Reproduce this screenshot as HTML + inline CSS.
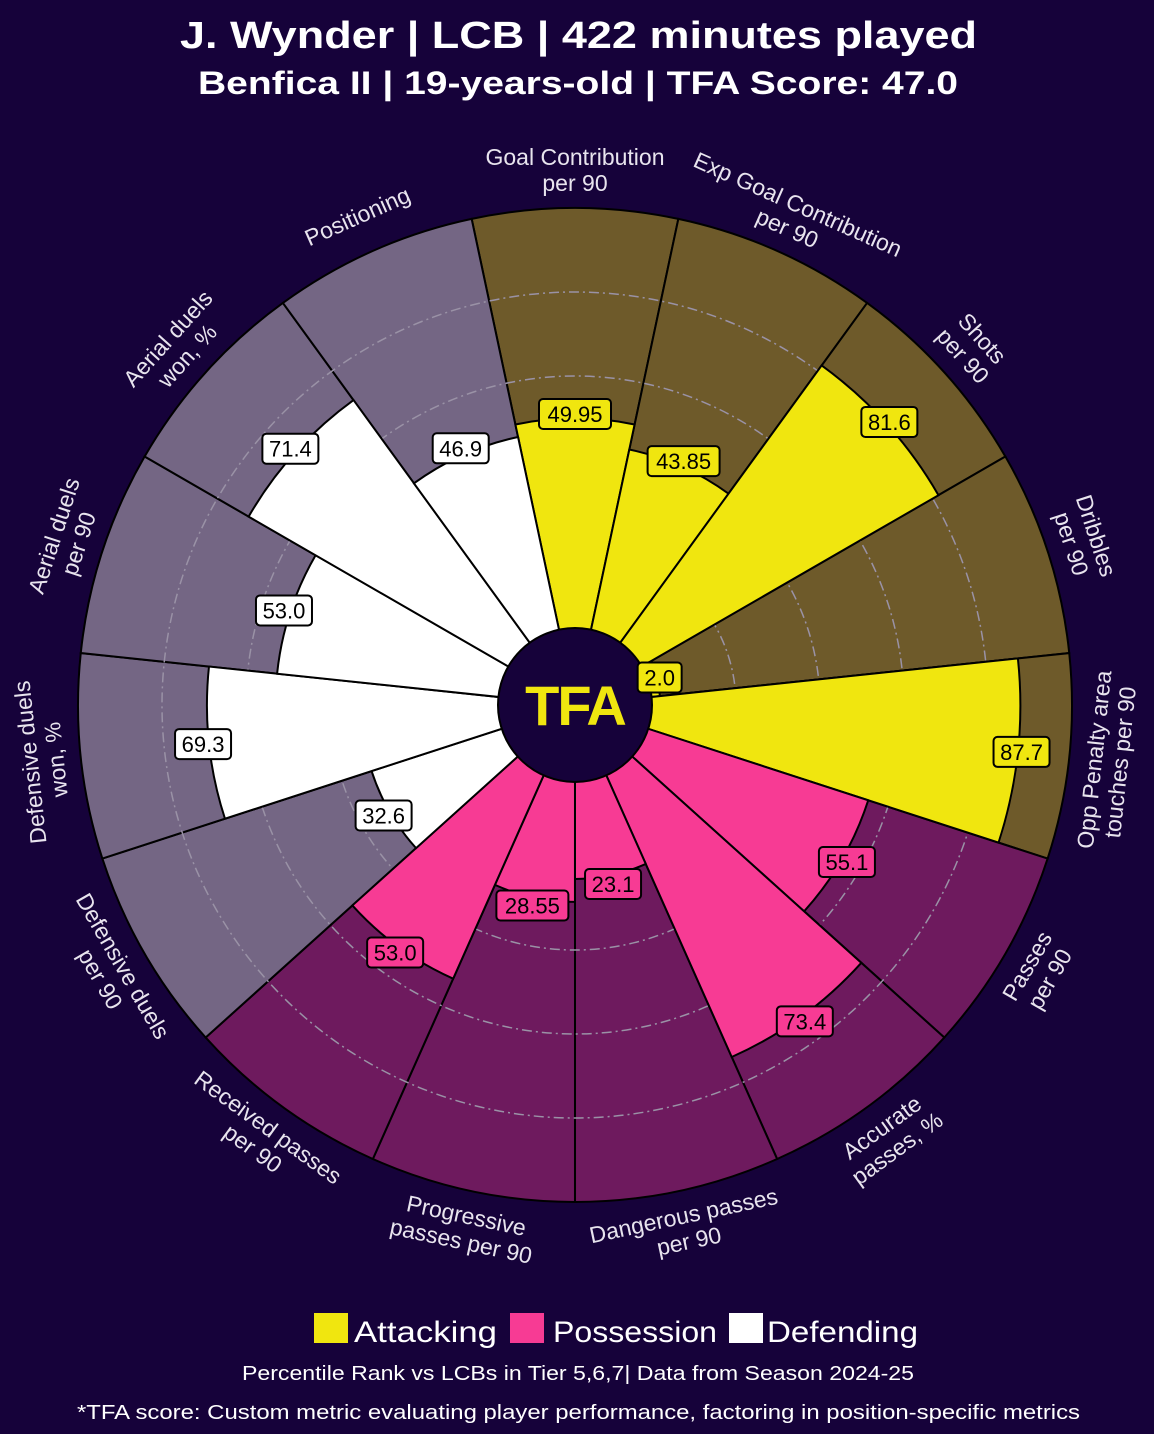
<!DOCTYPE html>
<html><head><meta charset="utf-8"><style>
html,body{margin:0;padding:0;background:#16023a;}
svg{display:block;font-family:"Liberation Sans",sans-serif;}
</style></head><body>
<svg width="1154" height="1434" viewBox="0 0 1154 1434" xmlns="http://www.w3.org/2000/svg">
<rect width="1154" height="1434" fill="#16023a"/>
<text x="180" y="48" fill="#fff" font-size="38" font-weight="bold" textLength="797" lengthAdjust="spacingAndGlyphs">J. Wynder | LCB | 422 minutes played</text>
<text x="198" y="94" fill="#fff" font-size="32" font-weight="bold" textLength="760" lengthAdjust="spacingAndGlyphs">Benfica II | 19-years-old | TFA Score: 47.0</text>

<defs>
<path id="bg" d="M575,705 L471.7,218.9 A497,497 0 0 1 678.3,218.9 Z"/>
</defs>
<g stroke="#000" stroke-width="2">
<use href="#bg" fill="#6e5a2a" transform="rotate(0 575 705)"/>
<use href="#bg" fill="#6e5a2a" transform="rotate(24 575 705)"/>
<use href="#bg" fill="#6e5a2a" transform="rotate(48 575 705)"/>
<use href="#bg" fill="#6e5a2a" transform="rotate(72 575 705)"/>
<use href="#bg" fill="#6e5a2a" transform="rotate(96 575 705)"/>
<use href="#bg" fill="#6e1a5e" transform="rotate(120 575 705)"/>
<use href="#bg" fill="#6e1a5e" transform="rotate(144 575 705)"/>
<use href="#bg" fill="#6e1a5e" transform="rotate(168 575 705)"/>
<use href="#bg" fill="#6e1a5e" transform="rotate(192 575 705)"/>
<use href="#bg" fill="#6e1a5e" transform="rotate(216 575 705)"/>
<use href="#bg" fill="#746684" transform="rotate(240 575 705)"/>
<use href="#bg" fill="#746684" transform="rotate(264 575 705)"/>
<use href="#bg" fill="#746684" transform="rotate(288 575 705)"/>
<use href="#bg" fill="#746684" transform="rotate(312 575 705)"/>
<use href="#bg" fill="#746684" transform="rotate(336 575 705)"/>
</g>
<g fill="none" stroke="#9a92a6" stroke-width="1.5" stroke-dasharray="10 4 2 4">
<circle cx="575" cy="705" r="161"/><circle cx="575" cy="705" r="245"/>
<circle cx="575" cy="705" r="329"/><circle cx="575" cy="705" r="413"/>
</g>
<g stroke="#000" stroke-width="2">
<path fill="#f0e60f" d="M575,705 L515.4,424.5 A286.8,286.8 0 0 1 634.6,424.5 Z" transform="rotate(0 575 705)"/>
<path fill="#f0e60f" d="M575,705 L520.7,449.5 A261.2,261.2 0 0 1 629.3,449.5 Z" transform="rotate(24 575 705)"/>
<path fill="#f0e60f" d="M575,705 L487.7,294.5 A419.7,419.7 0 0 1 662.3,294.5 Z" transform="rotate(48 575 705)"/>
<path fill="#f0e60f" d="M575,705 L557.2,621.5 A85.4,85.4 0 0 1 592.8,621.5 Z" transform="rotate(72 575 705)"/>
<path fill="#f0e60f" d="M575,705 L482.4,269.4 A445.3,445.3 0 0 1 667.6,269.4 Z" transform="rotate(96 575 705)"/>
<path fill="#f73b94" d="M575,705 L510.9,403.4 A308.4,308.4 0 0 1 639.1,403.4 Z" transform="rotate(120 575 705)"/>
<path fill="#f73b94" d="M575,705 L494.9,328.1 A385.3,385.3 0 0 1 655.1,328.1 Z" transform="rotate(144 575 705)"/>
<path fill="#f73b94" d="M575,705 L538.8,534.8 A174,174 0 0 1 611.2,534.8 Z" transform="rotate(168 575 705)"/>
<path fill="#f73b94" d="M575,705 L534.1,512.4 A196.9,196.9 0 0 1 615.9,512.4 Z" transform="rotate(192 575 705)"/>
<path fill="#f73b94" d="M575,705 L512.7,412 A299.6,299.6 0 0 1 637.3,412 Z" transform="rotate(216 575 705)"/>
<path fill="#ffffff" d="M575,705 L530.5,495.8 A213.9,213.9 0 0 1 619.5,495.8 Z" transform="rotate(240 575 705)"/>
<path fill="#ffffff" d="M575,705 L498.5,345 A368.1,368.1 0 0 1 651.5,345 Z" transform="rotate(264 575 705)"/>
<path fill="#ffffff" d="M575,705 L512.7,412 A299.6,299.6 0 0 1 637.3,412 Z" transform="rotate(288 575 705)"/>
<path fill="#ffffff" d="M575,705 L496.6,336.4 A376.9,376.9 0 0 1 653.4,336.4 Z" transform="rotate(312 575 705)"/>
<path fill="#ffffff" d="M575,705 L518,437 A274,274 0 0 1 632,437 Z" transform="rotate(336 575 705)"/>
</g>
<circle cx="575" cy="705" r="77" fill="#16023a" stroke="#000" stroke-width="2"/>
<text x="575" y="725" text-anchor="middle" fill="#f0e60f" font-size="56" font-weight="bold" letter-spacing="-2">TFA</text>

<g font-size="22" text-anchor="middle" fill="#000" stroke-width="2">
<g transform="rotate(0 575 705) translate(575 414) rotate(0)"><rect x="-36" y="-15" width="72" height="30" rx="4" fill="#f0e60f" stroke="#000"/><text y="8">49.95</text></g>
<g transform="rotate(24 575 705) translate(575 438) rotate(-24)"><rect x="-36" y="-15" width="72" height="30" rx="4" fill="#f0e60f" stroke="#000"/><text y="8">43.85</text></g>
<g transform="rotate(48 575 705) translate(575 282) rotate(-48)"><rect x="-28" y="-15" width="56" height="30" rx="4" fill="#f0e60f" stroke="#000"/><text y="8">81.6</text></g>
<g transform="rotate(72 575 705) translate(575 616) rotate(-72)"><rect x="-22" y="-15" width="44" height="30" rx="4" fill="#f0e60f" stroke="#000"/><text y="8">2.0</text></g>
<g transform="rotate(96 575 705) translate(575 256) rotate(-96)"><rect x="-28" y="-15" width="56" height="30" rx="4" fill="#f0e60f" stroke="#000"/><text y="8">87.7</text></g>
<g transform="rotate(120 575 705) translate(575 391) rotate(-120)"><rect x="-28" y="-15" width="56" height="30" rx="4" fill="#f73b94" stroke="#000"/><text y="8">55.1</text></g>
<g transform="rotate(144 575 705) translate(575 314) rotate(-144)"><rect x="-28" y="-15" width="56" height="30" rx="4" fill="#f73b94" stroke="#000"/><text y="8">73.4</text></g>
<g transform="rotate(168 575 705) translate(575 522) rotate(-168)"><rect x="-28" y="-15" width="56" height="30" rx="4" fill="#f73b94" stroke="#000"/><text y="8">23.1</text></g>
<g transform="rotate(192 575 705) translate(575 500) rotate(-192)"><rect x="-36" y="-15" width="72" height="30" rx="4" fill="#f73b94" stroke="#000"/><text y="8">28.55</text></g>
<g transform="rotate(216 575 705) translate(575 399) rotate(-216)"><rect x="-28" y="-15" width="56" height="30" rx="4" fill="#f73b94" stroke="#000"/><text y="8">53.0</text></g>
<g transform="rotate(240 575 705) translate(575 484) rotate(-240)"><rect x="-28" y="-15" width="56" height="30" rx="4" fill="#fff" stroke="#000"/><text y="8">32.6</text></g>
<g transform="rotate(264 575 705) translate(575 331) rotate(-264)"><rect x="-28" y="-15" width="56" height="30" rx="4" fill="#fff" stroke="#000"/><text y="8">69.3</text></g>
<g transform="rotate(288 575 705) translate(575 399) rotate(-288)"><rect x="-28" y="-15" width="56" height="30" rx="4" fill="#fff" stroke="#000"/><text y="8">53.0</text></g>
<g transform="rotate(312 575 705) translate(575 322) rotate(-312)"><rect x="-28" y="-15" width="56" height="30" rx="4" fill="#fff" stroke="#000"/><text y="8">71.4</text></g>
<g transform="rotate(336 575 705) translate(575 424) rotate(-336)"><rect x="-28" y="-15" width="56" height="30" rx="4" fill="#fff" stroke="#000"/><text y="8">46.9</text></g>
</g>

<g font-size="23" text-anchor="middle" fill="#e8e4ee">
<g transform="rotate(0 575 705)"><text x="575" y="165">Goal Contribution</text><text x="575" y="191">per 90</text></g>
<g transform="rotate(24 575 705)"><text x="575" y="165">Exp Goal Contribution</text><text x="575" y="191">per 90</text></g>
<g transform="rotate(48 575 705)"><text x="575" y="165">Shots</text><text x="575" y="191">per 90</text></g>
<g transform="rotate(72 575 705)"><text x="575" y="165">Dribbles</text><text x="575" y="191">per 90</text></g>
<g transform="rotate(96 575 705) rotate(180 575 170)"><text x="575" y="165">Opp Penalty area</text><text x="575" y="191">touches per 90</text></g>
<g transform="rotate(120 575 705) rotate(180 575 170)"><text x="575" y="165">Passes</text><text x="575" y="191">per 90</text></g>
<g transform="rotate(144 575 705) rotate(180 575 170)"><text x="575" y="165">Accurate</text><text x="575" y="191">passes, %</text></g>
<g transform="rotate(168 575 705) rotate(180 575 170)"><text x="575" y="165">Dangerous passes</text><text x="575" y="191">per 90</text></g>
<g transform="rotate(192 575 705) rotate(180 575 170)"><text x="575" y="165">Progressive</text><text x="575" y="191">passes per 90</text></g>
<g transform="rotate(216 575 705) rotate(180 575 170)"><text x="575" y="165">Received passes</text><text x="575" y="191">per 90</text></g>
<g transform="rotate(240 575 705) rotate(180 575 170)"><text x="575" y="165">Defensive duels</text><text x="575" y="191">per 90</text></g>
<g transform="rotate(264 575 705)"><text x="575" y="165">Defensive duels</text><text x="575" y="191">won, %</text></g>
<g transform="rotate(288 575 705)"><text x="575" y="165">Aerial duels</text><text x="575" y="191">per 90</text></g>
<g transform="rotate(312 575 705)"><text x="575" y="165">Aerial duels</text><text x="575" y="191">won, %</text></g>
<g transform="rotate(336 575 705)"><text x="575" y="178">Positioning</text></g>
</g>

<rect x="314" y="1313" width="34" height="30" fill="#f0e60f"/>
<text x="354" y="1342" fill="#fff" font-size="30" textLength="143" lengthAdjust="spacingAndGlyphs">Attacking</text>
<rect x="510" y="1313" width="34" height="30" fill="#f73b94"/>
<text x="553" y="1342" fill="#fff" font-size="30" textLength="164" lengthAdjust="spacingAndGlyphs">Possession</text>
<rect x="729" y="1313" width="34" height="30" fill="#fff"/>
<text x="767" y="1342" fill="#fff" font-size="30" textLength="151" lengthAdjust="spacingAndGlyphs">Defending</text>
<text x="242" y="1380" fill="#fff" font-size="20" textLength="672" lengthAdjust="spacingAndGlyphs">Percentile Rank vs LCBs in Tier 5,6,7| Data from Season 2024-25</text>
<text x="77" y="1419" fill="#fff" font-size="20" textLength="1003" lengthAdjust="spacingAndGlyphs">*TFA score: Custom metric evaluating player performance, factoring in position-specific metrics</text>
</svg>
</body></html>
